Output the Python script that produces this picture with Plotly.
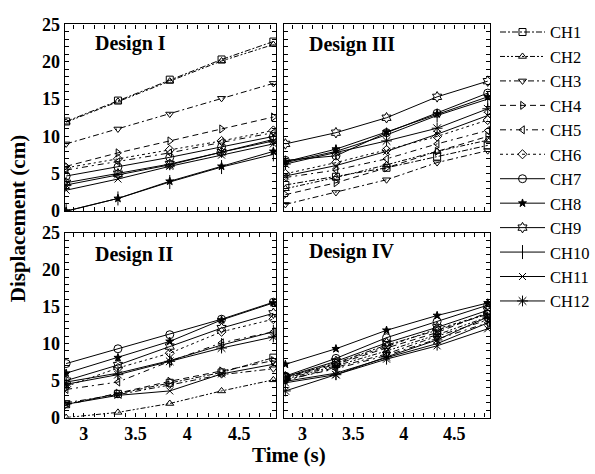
import plotly.graph_objects as go

time_s = [2.83, 3.33, 3.83, 4.33, 4.83]
channels = ["CH1", "CH2", "CH3", "CH4", "CH5", "CH6",
            "CH7", "CH8", "CH9", "CH10", "CH11", "CH12"]
panel_titles = ["Design I", "Design III", "Design II", "Design IV"]
x_tick_vals = [3, 3.5, 4, 4.5]
x_tick_text = ["3", "3.5", "4", "4.5"]
y_tick_vals = [0, 5, 10, 15, 20, 25]
y_tick_text = ["0", "5", "10", "15", "20", "25"]

# rows: CH1 .. CH12
design_I = [
    [12.0, 14.8, 17.6, 20.3, 22.7],
    [11.9, 14.7, 17.4, 20.1, 22.3],
    [9.0, 11.0, 13.0, 15.1, 17.1],
    [6.0, 7.8, 9.4, 11.0, 12.6],
    [5.5, 6.6, 7.8, 9.2, 10.5],
    [5.8, 7.0, 8.2, 9.4, 10.8],
    [4.7, 5.9, 7.2, 8.6, 10.0],
    [0.0, 1.7, 4.0, 6.0, 8.0],
    [3.8, 5.0, 6.3, 7.9, 9.6],
    [0.0, 1.7, 3.9, 5.9, 7.6],
    [2.8, 4.3, 6.0, 7.5, 9.0],
    [3.5, 4.9, 6.2, 7.9, 9.4],
]
design_III = [
    [3.5, 4.6, 5.8, 7.3, 8.8],
    [3.0, 4.5, 6.2, 8.0, 9.5],
    [0.9, 2.5, 4.2, 6.5, 8.1],
    [2.2, 3.8, 5.8, 8.0, 10.0],
    [4.5, 5.5, 7.0, 9.0, 10.8],
    [5.0, 6.5, 8.2, 10.0, 12.2],
    [6.8, 7.4, 10.5, 13.1, 15.8],
    [6.6, 8.3, 10.6, 13.0, 15.3],
    [9.0, 10.5, 12.5, 15.3, 17.4],
    [6.5, 8.0, 10.2, 12.8, 15.0],
    [4.7, 6.1, 8.0, 10.3, 12.8],
    [6.3, 7.8, 9.4, 11.1, 13.7],
]
design_II = [
    [1.8, 3.2, 4.7, 6.1, 8.1],
    [0.0, 0.7, 1.9, 3.6, 5.1],
    [2.0, 3.1, 4.4, 5.8, 6.6],
    [1.7, 3.3, 4.9, 6.3, 7.7],
    [3.8, 4.8, 7.6, 10.1, 11.6],
    [4.2, 6.7, 8.7, 11.6, 13.3],
    [7.3, 9.3, 11.2, 13.3, 15.6],
    [6.0, 8.1, 10.3, 13.2, 15.5],
    [5.0, 7.1, 9.6, 12.1, 14.1],
    [4.8, 6.0, 7.7, 9.8, 11.6],
    [1.8, 3.0, 3.6, 5.9, 7.2],
    [4.5, 5.8, 7.6, 9.4, 10.9],
]
design_IV = [
    [5.4, 7.4, 9.8, 11.8, 14.0],
    [5.2, 7.0, 9.0, 11.2, 13.6],
    [5.0, 6.8, 8.6, 11.0, 13.2],
    [5.3, 7.2, 9.4, 11.5, 14.2],
    [5.1, 6.6, 8.4, 10.6, 12.8],
    [5.5, 7.3, 9.6, 12.0, 14.0],
    [5.6, 8.0, 10.8, 13.0, 15.2],
    [7.2, 9.3, 11.8, 13.8, 15.5],
    [5.5, 7.6, 10.1, 12.2, 14.5],
    [4.9, 6.0, 8.1, 10.0, 12.8],
    [4.7, 5.8, 7.9, 9.7, 12.0],
    [3.6, 5.8, 8.2, 10.5, 13.6],
]

designs = [design_I, design_III, design_II, design_IV]

# styles per channel
dashes = ["6px,2px,2px,2px", "5px,2px,2px,2px,2px,2px", "6px,3px,2px,3px",
          "6px,4px", "6px,4px,2px,4px", "3px,3px,2px,3px",
          "solid", "solid", "solid", "solid", "solid", "solid"]
symbols = ["square-open", "triangle-up-open", "triangle-down-open",
           "triangle-right-open", "triangle-left-open", "diamond-open",
           "circle-open", "star", "hexagram-open", "line-ns-open",
           "x-thin-open", "asterisk-open"]
sizes = [7, 7, 7, 7, 7, 7, 8, 6, 8, 10, 7, 9]

SERIF = "Liberation Serif"
W, H = 595, 474

# tick marks every 0.1 s / 1 cm, labelled only at the named tick values
x_all = [round(2.9 + 0.1 * k, 1) for k in range(20)]
x_all_text = [x_tick_text[x_tick_vals.index(v)] if v in x_tick_vals else ""
              for v in x_all]
y_all = list(range(0, 26))
y_all_text = [y_tick_text[y_tick_vals.index(v)] if v in y_tick_vals else ""
              for v in y_all]

fig = go.Figure()
axis_ids = ["", "2", "3", "4"]
for p, data in enumerate(designs):
    for i, ch in enumerate(channels):
        fig.add_trace(go.Scatter(
            x=time_s, y=data[i], mode="lines+markers", name=ch,
            legendgroup=ch, showlegend=(p == 0),
            xaxis="x" + axis_ids[p], yaxis="y" + axis_ids[p],
            line=dict(color="black", width=1, dash=dashes[i]),
            marker=dict(symbol=symbols[i], size=sizes[i], color="black",
                        line=dict(color="black", width=1)),
        ))

# panel geometry in px
left_x = (65, 277)
right_x = (285, 492)
top_y = (15, 210)
bot_y = (232.5, 425.5)


def xd(a):
    return [a[0] / W, a[1] / W]


def yd(a):
    return [1 - a[1] / H, 1 - a[0] / H]


tickfont = dict(family=SERIF, size=18, color="black", weight="bold")
axis_style = dict(showline=True, linecolor="black", linewidth=1.3,
                  mirror="ticks", ticks="inside", ticklen=4,
                  tickcolor="black", tickwidth=1, showgrid=False,
                  zeroline=False, tickfont=tickfont)

geo = [(left_x, top_y), (right_x, top_y), (left_x, bot_y), (right_x, bot_y)]
layout_axes = {}
for p, (gx, gy) in enumerate(geo):
    layout_axes["xaxis" + axis_ids[p]] = dict(
        axis_style, domain=xd(gx), anchor="y" + axis_ids[p],
        range=[2.817, 4.856], tickmode="array", tickvals=x_all,
        ticktext=x_all_text, showticklabels=(p >= 2))
    layout_axes["yaxis" + axis_ids[p]] = dict(
        axis_style, domain=yd(gy), anchor="x" + axis_ids[p],
        range=[0, 25], tickmode="array", tickvals=y_all,
        ticktext=y_all_text, showticklabels=(p % 2 == 0))

title_pos = [(93, 35), (308, 36), (93, 255), (308, 252)]
annotations = []
for t, (tx, ty) in zip(panel_titles, title_pos):
    annotations.append(dict(text="<b>" + t + "</b>", x=tx / W, y=1 - ty / H,
                            xref="paper", yref="paper", xanchor="left",
                            yanchor="middle", showarrow=False,
                            font=dict(family=SERIF, size=20, color="black")))
annotations.append(dict(text="<b>Displacement (cm)</b>", x=17.5 / W,
                        y=1 - 218 / H, xref="paper", yref="paper",
                        textangle=-90, xanchor="center", yanchor="middle",
                        showarrow=False,
                        font=dict(family=SERIF, size=21, color="black")))
annotations.append(dict(text="<b>Time (s)</b>", x=290 / W, y=1 - 465 / H,
                        xref="paper", yref="paper", xanchor="center",
                        yanchor="middle", showarrow=False,
                        font=dict(family=SERIF, size=21, color="black")))

fig.update_layout(
    width=W, height=H,
    margin=dict(l=0, r=0, t=0, b=0),
    paper_bgcolor="white", plot_bgcolor="white",
    font=dict(family=SERIF, color="black"),
    showlegend=True,
    legend=dict(x=497 / W, y=1 - 5 / H, xanchor="left", yanchor="top",
                bgcolor="rgba(0,0,0,0)", borderwidth=0,
                font=dict(family=SERIF, size=16.5, color="black"),
                itemwidth=45, tracegroupgap=0, traceorder="normal"),
    annotations=annotations,
    **layout_axes,
)

fig.write_html("out.html")
